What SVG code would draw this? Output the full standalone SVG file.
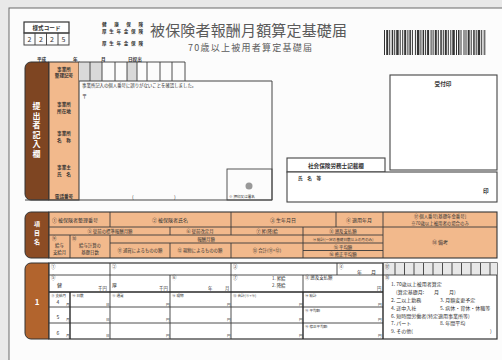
<svg xmlns="http://www.w3.org/2000/svg" width="502" height="360" viewBox="0 0 502 360">
<style>
text{font-family:"Noto Sans CJK JP","Noto Sans",sans-serif;fill:#333}
.b{font-weight:bold}
.t{font-size:4.4px}
.s{font-size:5px}
.m{font-size:5.6px;font-weight:bold}
.l{font-size:4.6px;font-weight:bold}
.w{fill:#fff;font-weight:bold}
.ln{stroke:#3a3a3a;stroke-width:0.9;fill:none}
.tk{stroke:#2a2a2a;stroke-width:1.4;fill:none}
.sal{fill:#f2b98c}
.box{fill:none;stroke:#444;stroke-width:1}
</style>
<rect width="502" height="360" fill="#e9e9e9"/>
<rect x="9" y="8" width="500" height="360" fill="#fcfcfc" stroke="#6a6a6a" stroke-width="1"/>

<g id="header">
  <rect x="24" y="22" width="45" height="11" fill="#fff" stroke="#333" stroke-width="1.2"/>
  <text x="46.5" y="30" text-anchor="middle" class="m">様式コード</text>
  <rect x="24" y="33" width="45" height="12" fill="#fff" class="box"/>
  <line x1="35" y1="33" x2="35" y2="45" class="ln"/>
  <line x1="46.5" y1="33" x2="46.5" y2="45" class="ln"/>
  <line x1="58" y1="33" x2="58" y2="45" class="ln"/>
  <text x="29.5" y="42" text-anchor="middle" font-size="7">2</text>
  <text x="41" y="42" text-anchor="middle" font-size="7">2</text>
  <text x="52" y="42" text-anchor="middle" font-size="7">2</text>
  <text x="63.5" y="42" text-anchor="middle" font-size="7">5</text>
  <text x="102" y="26" class="b" font-size="4.6" textLength="41" lengthAdjust="spacing">健康保険</text>
  <text x="102" y="33" class="b" font-size="4.6" textLength="41">厚生年金保険</text>
  <text x="102" y="45" class="b" font-size="4.6" textLength="41">厚生年金保険</text>
  <text x="150" y="36" font-size="15" style="fill:#5a5a5a" textLength="197">被保険者報酬月額算定基礎届</text>
  <text x="188" y="51" font-size="9" style="fill:#5a5a5a" textLength="124">70歳以上被用者算定基礎届</text>
  <line x1="384" y1="42.5" x2="486" y2="42.5" stroke="#333" stroke-width="25" stroke-dasharray="1 1.2 2 1 1 1.5 1.5 1 1 1 2.5 1 1 1.5 1 1 2 1.2 1 1 1.5 1 1 2 1 1 2.5 1 1 1.2 1.5 1 1 1 2 1.5 1 1 1 1.2 2 1 1 1.5 1.5 1 1 1 2 1 1 1.5 1 1 2.5 1.2 1 1 1.5 1 1 2 1 1"/>
  <text x="37" y="60.5" class="l">平成</text>
  <text x="73" y="60.5" class="l">年</text>
  <text x="101" y="60.5" class="l">月</text>
  <text x="128" y="60.5" class="l">日提出</text>
</g>

<g id="uketsuke">
  <rect x="390" y="75" width="107" height="95" fill="#fff" stroke="#444" stroke-width="1.1"/>
  <text x="443" y="86" text-anchor="middle" class="m">受付印</text>
</g>

<g id="section1">
  <path d="M31,62 H49 V200 H31 A6,6 0 0 1 25,194 V68 A6,6 0 0 1 31,62 Z" fill="#7e4522" stroke="#333" stroke-width="1"/>
  <rect x="49" y="62" width="30" height="138" class="sal" stroke="#333" stroke-width="1"/>
  <text x="36.5" y="109" text-anchor="middle" class="w" font-size="8">提</text>
  <text x="36.5" y="118.5" text-anchor="middle" class="w" font-size="8">出</text>
  <text x="36.5" y="128" text-anchor="middle" class="w" font-size="8">者</text>
  <text x="36.5" y="137.5" text-anchor="middle" class="w" font-size="8">記</text>
  <text x="36.5" y="147" text-anchor="middle" class="w" font-size="8">入</text>
  <text x="36.5" y="156.5" text-anchor="middle" class="w" font-size="8">欄</text>
  <text x="64" y="70.5" text-anchor="middle" class="l">事業所</text>
  <text x="64" y="77.3" text-anchor="middle" class="l">整理記号</text>
  <text x="64" y="106" text-anchor="middle" class="l">事業所</text>
  <text x="64" y="112.8" text-anchor="middle" class="l">所在地</text>
  <text x="64" y="135" text-anchor="middle" class="l">事業所</text>
  <text x="64" y="141.8" text-anchor="middle" class="l">名　称</text>
  <text x="64" y="169" text-anchor="middle" class="l">事業主</text>
  <text x="64" y="175.8" text-anchor="middle" class="l">氏　名</text>
  <text x="64" y="197.5" text-anchor="middle" class="l">電話番号</text>
  <rect x="79" y="62" width="11" height="19" fill="#d9d9d9"/>
  <rect x="90" y="62" width="12" height="19" fill="#d9d9d9"/>
  <rect x="127" y="62" width="10" height="19" fill="#d9d9d9"/>
  <path d="M79,62 H185 V81 M90,62 V81 M102,62 V81 M115,62 V81 M127,62 V81 M137,62 V81 M147,62 V81 M160,62 V81 M172,62 V81" class="ln"/>
  <path d="M79,81 H272 V200 M25,200 H272" class="box"/>
  <text x="82" y="87" class="t">事業所記入の個人番号に誤りがないことを確認しました。</text>
  <text x="82" y="98" class="s">〒</text>
  <text x="132" y="199" class="s">(</text>
  <text x="174" y="199" class="s">)</text>
  <rect x="227" y="169" width="45" height="31" fill="none" stroke="#444" stroke-width="0.9"/>
  <circle cx="249" cy="186" r="3.5" fill="#999"/>
  <text x="229" y="198" font-size="3.6">※ 押印又は署名</text>
</g>

<g id="sharoushi">
  <rect x="287" y="158" width="98" height="14" fill="#fff" stroke="#444" stroke-width="1.1"/>
  <text x="336" y="167.5" text-anchor="middle" class="m">社会保険労務士記載欄</text>
  <rect x="287" y="172" width="210" height="30" fill="#fff" stroke="#444" stroke-width="1.1"/>
  <text x="298" y="180" class="l" font-size="5">氏　名　等</text>
  <text x="483" y="193" class="m" font-size="6">印</text>
</g>

<g id="section2">
  <path d="M31,212 H49 V258 H31 A6,6 0 0 1 25,252 V218 A6,6 0 0 1 31,212 Z" fill="#8c4c24" stroke="#333" stroke-width="1"/>
  <text x="37" y="226" text-anchor="middle" class="w" font-size="6">項</text>
  <text x="37" y="235" text-anchor="middle" class="w" font-size="6">目</text>
  <text x="37" y="244" text-anchor="middle" class="w" font-size="6">名</text>
  <rect x="49" y="212" width="448" height="46" class="sal" stroke="#333" stroke-width="1.1"/>
  <path d="M49,227 H497 M49,235 H383 M110,243 H383 M303,250.5 H383
           M110,212 V227 M231,212 V227 M336,212 V227 M383,212 V258
           M170,227 V235 M231,227 V235 M303,227 V258
           M70,235 V258 M110,235 V258 M170,243 V258 M231,243 V258" class="ln"/>
  <text x="52" y="221.5" class="s">① 被保険者整理番号</text>
  <text x="170" y="221.5" text-anchor="middle" class="s">② 被保険者氏名</text>
  <text x="283" y="221.5" text-anchor="middle" class="s">③ 生年月日</text>
  <text x="359" y="221.5" text-anchor="middle" class="s">④ 適用年月</text>
  <text x="440" y="217.5" text-anchor="middle" class="t">⑰ 個人番号[基礎年金番号]</text>
  <text x="440" y="224.5" text-anchor="middle" class="t">※70歳以上被用者の場合のみ</text>
  <text x="110" y="233" text-anchor="middle" class="t">⑤ 従前の標準報酬月額</text>
  <text x="200" y="233" text-anchor="middle" class="t">⑥ 従前改定月</text>
  <text x="267" y="233" text-anchor="middle" class="t">⑦ 昇(降)給</text>
  <text x="343" y="233" text-anchor="middle" class="t">⑧ 遡及支払額</text>
  <text x="52" y="240" class="t">⑨</text>
  <text x="59.5" y="246.8" text-anchor="middle" class="t">給与</text>
  <text x="59.5" y="253.6" text-anchor="middle" class="t">支給月</text>
  <text x="72" y="240" class="t">⑩</text>
  <text x="90" y="246.8" text-anchor="middle" class="t">給与計算の</text>
  <text x="90" y="253.6" text-anchor="middle" class="t">基礎日数</text>
  <text x="206" y="241" text-anchor="middle" class="t">報酬月額</text>
  <text x="343" y="241" text-anchor="middle" font-size="3.6">⑭ 総計(一定の基礎日数以上の月のみ)</text>
  <text x="140" y="252" text-anchor="middle" class="t">⑪ 通貨によるものの額</text>
  <text x="200" y="252" text-anchor="middle" class="t">⑫ 現物によるものの額</text>
  <text x="267" y="252" text-anchor="middle" class="t">⑬ 合計(⑪+⑫)</text>
  <text x="343" y="248.5" text-anchor="middle" class="t">⑮ 平均額</text>
  <text x="343" y="256" text-anchor="middle" class="t">⑯ 修正平均額</text>
  <text x="440" y="244" text-anchor="middle" class="s">⑱ 備考</text>
</g>

<g id="section3">
  <path d="M31,263 H49 V339 H31 A6,6 0 0 1 25,333 V269 A6,6 0 0 1 31,263 Z" fill="#b2642d" stroke="#333" stroke-width="1"/>
  <text x="37" y="305" text-anchor="middle" class="w" font-size="8">1</text>
  <rect x="49" y="263" width="448" height="76" fill="#fff" stroke="#333" stroke-width="1.2"/>
  <rect x="383" y="263" width="114" height="12" fill="#e8e8e8"/>
  <path d="M49,275 H497 M49,307 H383 M49,323 H383
           M110,263 V292 M231,263 V292 M337,263 V275 M170,275 V292 M303,275 V292
           M110,292 V339 M170,292 V339 M231,292 V339
           M395,263 V275 M404.5,263 V275 M414,263 V275 M423.5,263 V275 M433,263 V275 M442.5,263 V275 M452,263 V275 M461.5,263 V275 M471,263 V275 M480.5,263 V275 M490,263 V275" class="ln"/>
  <path d="M49,292 H383 M70,292 V339 M303,292 V339 M383,263 V339" class="tk"/>
  <text x="51" y="268" class="t">①</text>
  <text x="112" y="268" class="t">②</text>
  <text x="233" y="268" class="t">③</text>
  <text x="339" y="268" class="t">④</text>
  <text x="385" y="268" class="t">⑰</text>
  <text x="357" y="273.5" class="s">年</text>
  <text x="371" y="273.5" class="s">月</text>
  <text x="51" y="279" class="t">⑤</text>
  <text x="57" y="287" class="s">健</text>
  <text x="98" y="290" class="t">千円</text>
  <text x="112" y="287" class="s">厚</text>
  <text x="159" y="290" class="t">千円</text>
  <text x="172" y="279" class="t">⑥</text>
  <text x="208" y="290" class="t">年</text>
  <text x="225" y="290" class="t">月</text>
  <text x="233" y="279" class="t">⑦</text>
  <text x="272" y="280" class="t">1. 昇給</text>
  <text x="272" y="287" class="t">2. 降給</text>
  <text x="305" y="279" class="t">⑧ 遡及支払額</text>
  <text x="377" y="290" class="t">円</text>
  <text x="51" y="296.5" font-size="3.6">⑨ 支給月</text>
  <text x="72" y="296.5" font-size="3.6">⑩ 日数</text>
  <text x="112" y="296.5" font-size="3.6">⑪ 通貨</text>
  <text x="172" y="296.5" font-size="3.6">⑫ 現物</text>
  <text x="233" y="296.5" font-size="3.6">⑬ 合計(⑪+⑫)</text>
  <text x="305" y="296.5" font-size="3.6">⑭ 総計</text>
  <text x="305" y="311.5" font-size="3.6">⑮ 平均額</text>
  <text x="305" y="327.5" font-size="3.6">⑯ 修正平均額</text>
  <text x="58" y="304" text-anchor="middle" class="s">4</text>
  <text x="58" y="319" text-anchor="middle" class="s">5</text>
  <text x="58" y="335" text-anchor="middle" class="s">6</text>
  <text x="66" y="305.5" font-size="3.6">月</text>
  <text x="66" y="321" font-size="3.6">月</text>
  <text x="66" y="337" font-size="3.6">月</text>
  <text x="106" y="305.5" font-size="3.6">日</text>
  <text x="106" y="321" font-size="3.6">日</text>
  <text x="106" y="337" font-size="3.6">日</text>
  <text x="166" y="305.5" font-size="3.6">円</text>
  <text x="166" y="321" font-size="3.6">円</text>
  <text x="166" y="337" font-size="3.6">円</text>
  <text x="227" y="305.5" font-size="3.6">円</text>
  <text x="227" y="321" font-size="3.6">円</text>
  <text x="227" y="337" font-size="3.6">円</text>
  <text x="299" y="305.5" font-size="3.6">円</text>
  <text x="299" y="321" font-size="3.6">円</text>
  <text x="299" y="337" font-size="3.6">円</text>
  <text x="378" y="305.5" font-size="3.6">円</text>
  <text x="378" y="321" font-size="3.6">円</text>
  <text x="378" y="337" font-size="3.6">円</text>
  <text x="385" y="279" class="t">⑱</text>
  <text x="391" y="286" class="s">1. 70歳以上被用者算定</text>
  <text x="396" y="294" class="s">(算定基礎月:　　月　　月)</text>
  <text x="391" y="302" class="s">2. 二以上勤務</text>
  <text x="440" y="302" class="s">3. 月額変更予定</text>
  <text x="391" y="310" class="s">4. 途中入社</text>
  <text x="440" y="310" class="s">5. 病休・育休・休職等</text>
  <text x="391" y="317.5" class="s">6. 短時間労働者(特定適用事業所等)</text>
  <text x="391" y="325" class="s">7. パート</text>
  <text x="440" y="325" class="s">8. 年間平均</text>
  <text x="391" y="333" class="s">9. その他(</text>
  <text x="490" y="333" class="s">)</text>
</g>
</svg>
